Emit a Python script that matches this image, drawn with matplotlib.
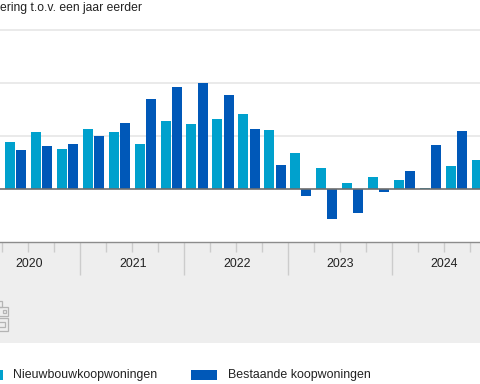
import matplotlib
matplotlib.use("Agg")
import matplotlib.pyplot as plt
from matplotlib.patches import Rectangle
import numpy as np

plt.rcParams['font.family'] = ['Liberation Sans', 'DejaVu Sans']

W, H = 480, 384
years = ['2020', '2021', '2022', '2023', '2024']
title = 'ering t.o.v. een jaar eerder'
name_new = 'Nieuwbouwkoopwoningen'
name_old = 'Bestaande koopwoningen'
# quarters from 2020 Q1 to 2024 Q4
new_build = [2.9, 4.49, 5.41, 3.83, 5.69, 5.41, 4.30, 6.39, 6.17, 6.58, 7.08, 5.60,
             3.42, 1.96, 0.57, 1.17, 0.85, 0.09, 2.15, 2.72]
existing = [3.38, 3.73, 4.02, 4.30, 5.0, 6.26, 8.54, 9.65, 10.03, 8.92, 5.69, 2.25,
            -0.63, -2.83, -2.32, -0.25, 1.74, 4.2, 5.5, 5.0]
grid_values = [5, 10, 15]

fig = plt.figure(figsize=(W/100, H/100), dpi=100, facecolor='white')

def fx(p): return p / W
def fy(p): return 1 - p / H

PANEL = '#eeeeee'
fig.add_artist(Rectangle((0, fy(343)), 1, (343-242)/H, transform=fig.transFigure,
                         fc=PANEL, ec='none', zorder=0))

# 1 quarter = 25.95 px; quarter index 0 spans x px -23.5..2.45
step = 25.95
x0 = -23.5
ax = fig.add_axes([0, fy(241.8), 1, (241.8-0)/H], facecolor='none', zorder=2)

idx = np.arange(len(new_build)) + 0.5
bw = 10/step
off = 5.6/step
ax.bar(idx-off, new_build, bw, color='#00a1cd', zorder=3, linewidth=0)
ax.bar(idx+off, existing, bw, color='#0058b8', zorder=3, linewidth=0)
for g in grid_values:
    ax.axhline(g, color='#e6e6e6', lw=1.2, zorder=1)
ax.axhline(0, color='#6e6e6e', lw=1.2, zorder=4)

for s in ['top', 'left', 'right']:
    ax.spines[s].set_visible(False)
ax.spines['bottom'].set_color('#8c8c8c')
ax.spines['bottom'].set_linewidth(1.0)
ax.set_yticks([])

all_q = np.arange(len(new_build)+1)
ax.set_xticks(all_q[::4])
ax.set_xticks(all_q, minor=True)
ax.tick_params(axis='x', which='major', length=33*0.72, width=1.0, color='#cccccc', labelbottom=False)
ax.tick_params(axis='x', which='minor', length=9.5*0.72, width=1.0, color='#cccccc')

ax.set_xlim((0-x0)/step, (480-x0)/step)
ax.set_ylim(-5, 188.5 / 10.54)

trans = ax.get_xaxis_transform()
for i, y in enumerate(years):
    ax.annotate(y, xy=(i*4+2, 0), xycoords=trans, xytext=(0.5, -22.3*0.72), textcoords='offset points',
                ha='center', va='center', fontsize=8.9, color='#222222', annotation_clip=False)

fig.text(fx(0.5), fy(7.5), title, ha='left', va='center', fontsize=8.7, color='#222222')

# legend
fig.add_artist(Rectangle((0, fy(380)), fx(3), 10/H, transform=fig.transFigure, fc='#00a1cd', ec='none'))
fig.add_artist(Rectangle((fx(190.5), fy(380)), fx(26), 10/H, transform=fig.transFigure, fc='#0058b8', ec='none'))
fig.text(fx(13.5), fy(375.2), name_new, ha='left', va='center', fontsize=8.9, color='#222222')
fig.text(fx(227.5), fy(375.2), name_old, ha='left', va='center', fontsize=8.9, color='#222222')

# clipped logo in the grey panel
def outline(x1, y1, x2, y2):
    fig.add_artist(Rectangle((fx(x1), fy(y2)), fx(x2-x1), (y2-y1)/H, transform=fig.transFigure,
                             fc='none', ec='#b4b4b4', lw=0.9))
outline(-3, 301, 2, 307)
outline(-3, 307, 8, 316)
outline(2.5, 309.5, 5.5, 313)
outline(-3, 318, 8, 331)
outline(-3, 322, 5, 327)

fig.savefig('out.png', dpi=100, facecolor='white')
